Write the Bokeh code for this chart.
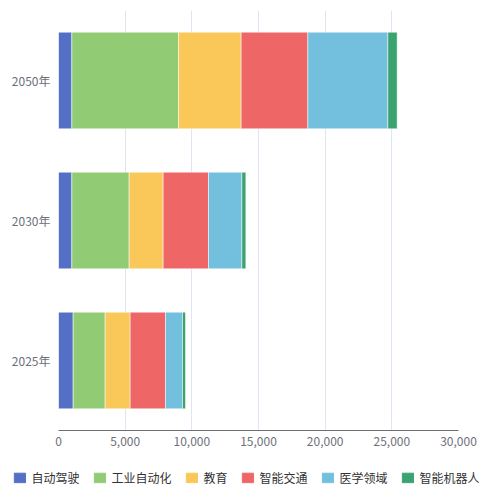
from bokeh.plotting import figure
from bokeh.layouts import column, row
from bokeh.models import ColumnDataSource, FactorRange, Range1d, Legend, NumeralTickFormatter, FixedTicker
from bokeh.embed import file_html
from bokeh.resources import INLINE

# 各领域规模
years = ['2025年', '2030年', '2050年']
series = ['自动驾驶', '工业自动化', '教育', '智能交通', '医学领域', '智能机器人']
colors = ['#5470c6', '#91cc75', '#fac858', '#ee6666', '#73c0de', '#3ba272']

auto_drive = [1100, 1000, 1000]
industry = [2400, 4300, 8000]
education = [1875, 2550, 4700]
traffic = [2650, 3400, 5000]
medical = [1275, 2500, 6000]
robot = [225, 300, 700]

x_ticks = [0, 5000, 10000, 15000, 20000, 25000, 30000]

FONT = "Noto Sans CJK SC"

data = dict(year=years)
for name, vals in zip(series, [auto_drive, industry, education, traffic, medical, robot]):
    data[name] = vals
source = ColumnDataSource(data)

p = figure(width=492, height=462, y_range=FactorRange(*years, range_padding=0),
           x_range=Range1d(0, 30000), output_backend="svg", toolbar_location=None,
           min_border_left=58, min_border_right=34, min_border_top=10, min_border_bottom=32)

p.hbar_stack(series, y='year', height=0.69, color=colors, source=source,
             line_color='white', line_width=0.5)

p.outline_line_color = None
p.ygrid.grid_line_color = None
p.xgrid.grid_line_color = '#e0e6f1'
p.xaxis.ticker = FixedTicker(ticks=x_ticks)
p.xaxis.formatter = NumeralTickFormatter(format='0,0')
p.xaxis.axis_line_color = '#6e7079'
p.xaxis.major_label_standoff = 6
p.yaxis.axis_line_color = None
p.yaxis.major_label_standoff = 8
for ax in [p.xaxis, p.yaxis]:
    ax.major_tick_line_color = None
    ax.minor_tick_line_color = None
    ax.major_tick_out = 0
    ax.major_tick_in = 0
    ax.major_label_text_font = FONT
    ax.major_label_text_font_size = '12px'
    ax.major_label_text_color = '#6e7079'

# 图例单独放在下方的一个小图里（条形本身隐藏，只画图例）
lg = figure(width=492, height=30, y_range=FactorRange(*years), x_range=Range1d(0, 30000),
            output_backend="svg", toolbar_location=None, x_axis_location=None, y_axis_location=None,
            min_border_left=0, min_border_right=0, min_border_top=0, min_border_bottom=0)
rs = lg.hbar_stack(series, y='year', height=0.69, color=colors, source=source)
for r in rs:
    r.visible = False
lg.outline_line_color = None
lg.grid.grid_line_color = None
legend = Legend(items=[(s, [r]) for s, r in zip(series, rs)],
                orientation='horizontal', location='center', click_policy='none',
                glyph_width=14, glyph_height=12, label_standoff=5, spacing=13,
                padding=2, margin=0, border_line_color=None, background_fill_alpha=0,
                label_text_font=FONT, label_text_font_size='12px', label_text_color='#333333')
lg.add_layout(legend, 'center')

open("out.html", "w").write(file_html(column(p, row(lg), spacing=0), INLINE))
